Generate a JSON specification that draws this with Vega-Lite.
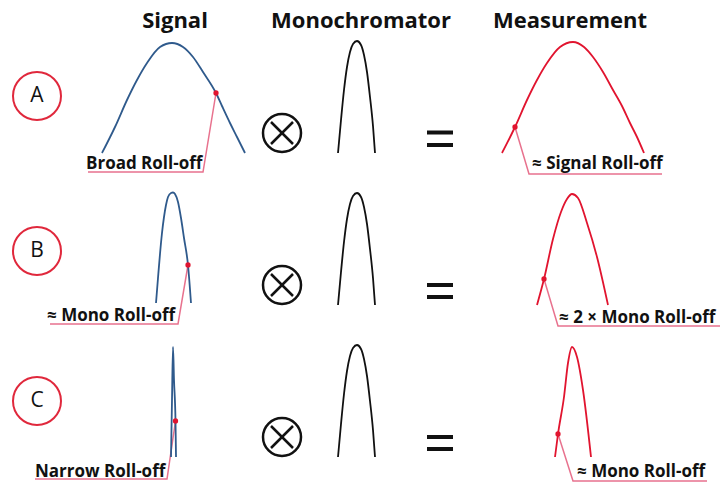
{
  "$schema": "https://vega.github.io/schema/vega-lite/v6.json",
  "width": 720,
  "height": 485,
  "padding": 0,
  "autosize": {"type": "none"},
  "background": "white",
  "config": {"view": {"stroke": null}, "axis": {"disable": true}},
  "datasets": {
    "curves": [
      {"id": "sigA", "kind": "signal", "o": 1, "x": 102, "y": 153},
      {"id": "sigA", "kind": "signal", "o": 2, "x": 115, "y": 127},
      {"id": "sigA", "kind": "signal", "o": 3, "x": 127, "y": 100},
      {"id": "sigA", "kind": "signal", "o": 4, "x": 137, "y": 80},
      {"id": "sigA", "kind": "signal", "o": 5, "x": 147, "y": 63},
      {"id": "sigA", "kind": "signal", "o": 6, "x": 160, "y": 47},
      {"id": "sigA", "kind": "signal", "o": 7, "x": 172, "y": 43},
      {"id": "sigA", "kind": "signal", "o": 8, "x": 183, "y": 47},
      {"id": "sigA", "kind": "signal", "o": 9, "x": 193, "y": 57},
      {"id": "sigA", "kind": "signal", "o": 10, "x": 203, "y": 72},
      {"id": "sigA", "kind": "signal", "o": 11, "x": 216, "y": 93},
      {"id": "sigA", "kind": "signal", "o": 12, "x": 222, "y": 106},
      {"id": "sigA", "kind": "signal", "o": 13, "x": 230, "y": 123},
      {"id": "sigA", "kind": "signal", "o": 14, "x": 237, "y": 137},
      {"id": "sigA", "kind": "signal", "o": 15, "x": 245, "y": 153},

      {"id": "monoA", "kind": "mono", "o": 1, "x": 338, "y": 153},
      {"id": "monoA", "kind": "mono", "o": 2, "x": 341, "y": 120},
      {"id": "monoA", "kind": "mono", "o": 3, "x": 344, "y": 90},
      {"id": "monoA", "kind": "mono", "o": 4, "x": 347, "y": 67},
      {"id": "monoA", "kind": "mono", "o": 5, "x": 350, "y": 52},
      {"id": "monoA", "kind": "mono", "o": 6, "x": 353, "y": 44},
      {"id": "monoA", "kind": "mono", "o": 7, "x": 357, "y": 41},
      {"id": "monoA", "kind": "mono", "o": 8, "x": 361, "y": 45},
      {"id": "monoA", "kind": "mono", "o": 9, "x": 364, "y": 55},
      {"id": "monoA", "kind": "mono", "o": 10, "x": 367, "y": 72},
      {"id": "monoA", "kind": "mono", "o": 11, "x": 370, "y": 97},
      {"id": "monoA", "kind": "mono", "o": 12, "x": 373, "y": 126},
      {"id": "monoA", "kind": "mono", "o": 13, "x": 375, "y": 153},

      {"id": "measA", "kind": "meas", "o": 1, "x": 502, "y": 153},
      {"id": "measA", "kind": "meas", "o": 2, "x": 515, "y": 127},
      {"id": "measA", "kind": "meas", "o": 3, "x": 527, "y": 100},
      {"id": "measA", "kind": "meas", "o": 4, "x": 537, "y": 80},
      {"id": "measA", "kind": "meas", "o": 5, "x": 547, "y": 63},
      {"id": "measA", "kind": "meas", "o": 6, "x": 560, "y": 47},
      {"id": "measA", "kind": "meas", "o": 7, "x": 573, "y": 42},
      {"id": "measA", "kind": "meas", "o": 8, "x": 584, "y": 47},
      {"id": "measA", "kind": "meas", "o": 9, "x": 593, "y": 57},
      {"id": "measA", "kind": "meas", "o": 10, "x": 603, "y": 72},
      {"id": "measA", "kind": "meas", "o": 11, "x": 613, "y": 90},
      {"id": "measA", "kind": "meas", "o": 12, "x": 622, "y": 106},
      {"id": "measA", "kind": "meas", "o": 13, "x": 630, "y": 123},
      {"id": "measA", "kind": "meas", "o": 14, "x": 637, "y": 137},
      {"id": "measA", "kind": "meas", "o": 15, "x": 644, "y": 153},

      {"id": "sigB", "kind": "signal", "o": 1, "x": 156, "y": 303},
      {"id": "sigB", "kind": "signal", "o": 2, "x": 158, "y": 278},
      {"id": "sigB", "kind": "signal", "o": 3, "x": 160, "y": 254},
      {"id": "sigB", "kind": "signal", "o": 4, "x": 162, "y": 233},
      {"id": "sigB", "kind": "signal", "o": 5, "x": 164, "y": 217},
      {"id": "sigB", "kind": "signal", "o": 6, "x": 166, "y": 205},
      {"id": "sigB", "kind": "signal", "o": 7, "x": 168, "y": 197},
      {"id": "sigB", "kind": "signal", "o": 8, "x": 171, "y": 193},
      {"id": "sigB", "kind": "signal", "o": 9, "x": 173, "y": 192.5},
      {"id": "sigB", "kind": "signal", "o": 10, "x": 175, "y": 194},
      {"id": "sigB", "kind": "signal", "o": 11, "x": 178, "y": 202},
      {"id": "sigB", "kind": "signal", "o": 12, "x": 181, "y": 218},
      {"id": "sigB", "kind": "signal", "o": 13, "x": 184, "y": 238},
      {"id": "sigB", "kind": "signal", "o": 14, "x": 188, "y": 265},
      {"id": "sigB", "kind": "signal", "o": 15, "x": 191, "y": 303},

      {"id": "monoB", "kind": "mono", "o": 1, "x": 338, "y": 305},
      {"id": "monoB", "kind": "mono", "o": 2, "x": 341, "y": 272},
      {"id": "monoB", "kind": "mono", "o": 3, "x": 344, "y": 242},
      {"id": "monoB", "kind": "mono", "o": 4, "x": 347, "y": 219},
      {"id": "monoB", "kind": "mono", "o": 5, "x": 350, "y": 204},
      {"id": "monoB", "kind": "mono", "o": 6, "x": 353, "y": 196},
      {"id": "monoB", "kind": "mono", "o": 7, "x": 357, "y": 193},
      {"id": "monoB", "kind": "mono", "o": 8, "x": 361, "y": 197},
      {"id": "monoB", "kind": "mono", "o": 9, "x": 364, "y": 207},
      {"id": "monoB", "kind": "mono", "o": 10, "x": 367, "y": 224},
      {"id": "monoB", "kind": "mono", "o": 11, "x": 370, "y": 249},
      {"id": "monoB", "kind": "mono", "o": 12, "x": 373, "y": 278},
      {"id": "monoB", "kind": "mono", "o": 13, "x": 375, "y": 305},

      {"id": "measB", "kind": "meas", "o": 1, "x": 537, "y": 305},
      {"id": "measB", "kind": "meas", "o": 2, "x": 544, "y": 279},
      {"id": "measB", "kind": "meas", "o": 3, "x": 553, "y": 239},
      {"id": "measB", "kind": "meas", "o": 4, "x": 561, "y": 212},
      {"id": "measB", "kind": "meas", "o": 5, "x": 567, "y": 199},
      {"id": "measB", "kind": "meas", "o": 6, "x": 572, "y": 194},
      {"id": "measB", "kind": "meas", "o": 7, "x": 578, "y": 198},
      {"id": "measB", "kind": "meas", "o": 8, "x": 587, "y": 223},
      {"id": "measB", "kind": "meas", "o": 9, "x": 597, "y": 257},
      {"id": "measB", "kind": "meas", "o": 10, "x": 608, "y": 305},

      {"id": "sigC", "kind": "signal", "o": 1, "x": 171, "y": 457},
      {"id": "sigC", "kind": "signal", "o": 2, "x": 172, "y": 400},
      {"id": "sigC", "kind": "signal", "o": 3, "x": 173, "y": 347},
      {"id": "sigC", "kind": "signal", "o": 4, "x": 174, "y": 380},
      {"id": "sigC", "kind": "signal", "o": 5, "x": 175.5, "y": 421},
      {"id": "sigC", "kind": "signal", "o": 6, "x": 176, "y": 457},

      {"id": "monoC", "kind": "mono", "o": 1, "x": 338, "y": 457},
      {"id": "monoC", "kind": "mono", "o": 2, "x": 341, "y": 424},
      {"id": "monoC", "kind": "mono", "o": 3, "x": 344, "y": 394},
      {"id": "monoC", "kind": "mono", "o": 4, "x": 347, "y": 371},
      {"id": "monoC", "kind": "mono", "o": 5, "x": 350, "y": 356},
      {"id": "monoC", "kind": "mono", "o": 6, "x": 353, "y": 348},
      {"id": "monoC", "kind": "mono", "o": 7, "x": 357, "y": 345},
      {"id": "monoC", "kind": "mono", "o": 8, "x": 361, "y": 349},
      {"id": "monoC", "kind": "mono", "o": 9, "x": 364, "y": 359},
      {"id": "monoC", "kind": "mono", "o": 10, "x": 367, "y": 376},
      {"id": "monoC", "kind": "mono", "o": 11, "x": 370, "y": 401},
      {"id": "monoC", "kind": "mono", "o": 12, "x": 373, "y": 430},
      {"id": "monoC", "kind": "mono", "o": 13, "x": 375, "y": 457},

      {"id": "measC", "kind": "meas", "o": 1, "x": 555, "y": 457},
      {"id": "measC", "kind": "meas", "o": 2, "x": 558, "y": 434},
      {"id": "measC", "kind": "meas", "o": 3, "x": 564, "y": 397},
      {"id": "measC", "kind": "meas", "o": 4, "x": 568, "y": 363},
      {"id": "measC", "kind": "meas", "o": 5, "x": 572, "y": 347},
      {"id": "measC", "kind": "meas", "o": 6, "x": 577, "y": 357},
      {"id": "measC", "kind": "meas", "o": 7, "x": 583, "y": 390},
      {"id": "measC", "kind": "meas", "o": 8, "x": 591, "y": 457}
    ],
    "links": [
      {"id": "lA1", "o": 1, "x": 216, "y": 93},
      {"id": "lA1", "o": 2, "x": 203, "y": 172},
      {"id": "lA1", "o": 3, "x": 88, "y": 172},
      {"id": "lA2", "o": 1, "x": 515, "y": 127},
      {"id": "lA2", "o": 2, "x": 529, "y": 174},
      {"id": "lA2", "o": 3, "x": 662, "y": 174},
      {"id": "lB1", "o": 1, "x": 188, "y": 265},
      {"id": "lB1", "o": 2, "x": 178, "y": 324},
      {"id": "lB1", "o": 3, "x": 50, "y": 324},
      {"id": "lB2", "o": 1, "x": 544, "y": 279},
      {"id": "lB2", "o": 2, "x": 558, "y": 326},
      {"id": "lB2", "o": 3, "x": 720, "y": 326},
      {"id": "lC1", "o": 1, "x": 175.5, "y": 421},
      {"id": "lC1", "o": 2, "x": 167, "y": 479},
      {"id": "lC1", "o": 3, "x": 35, "y": 479},
      {"id": "lC2", "o": 1, "x": 558, "y": 434},
      {"id": "lC2", "o": 2, "x": 573, "y": 481},
      {"id": "lC2", "o": 3, "x": 707, "y": 481}
    ],
    "dots": [
      {"x": 216, "y": 93}, {"x": 515, "y": 127},
      {"x": 188, "y": 265}, {"x": 544, "y": 279},
      {"x": 175.5, "y": 421}, {"x": 558, "y": 434}
    ],
    "rows": [
      {"letter": "A", "x": 37, "y": 96, "ox": 282, "oy": 133},
      {"letter": "B", "x": 37, "y": 251, "ox": 282, "oy": 285},
      {"letter": "C", "x": 37, "y": 401, "ox": 282, "oy": 437}
    ],
    "crosses": [
      {"x": 271, "y": 122, "x2": 293, "y2": 144},
      {"x": 271, "y": 144, "x2": 293, "y2": 122},
      {"x": 271, "y": 274, "x2": 293, "y2": 296},
      {"x": 271, "y": 296, "x2": 293, "y2": 274},
      {"x": 271, "y": 426, "x2": 293, "y2": 448},
      {"x": 271, "y": 448, "x2": 293, "y2": 426}
    ],
    "equals": [
      {"x": 427, "x2": 453, "y": 132.5}, {"x": 427, "x2": 453, "y": 145},
      {"x": 427, "x2": 453, "y": 285}, {"x": 427, "x2": 453, "y": 297},
      {"x": 427, "x2": 453, "y": 437}, {"x": 427, "x2": 453, "y": 449}
    ],
    "headers": [
      {"t": "Signal", "x": 175, "y": 28},
      {"t": "Monochromator", "x": 361, "y": 28},
      {"t": "Measurement", "x": 570, "y": 28}
    ],
    "labels": [
      {"t": "Broad Roll-off", "x": 86, "y": 169},
      {"t": "≈ Signal Roll-off", "x": 532, "y": 169},
      {"t": "≈ Mono Roll-off", "x": 47, "y": 321},
      {"t": "≈ 2 × Mono Roll-off", "x": 559, "y": 323},
      {"t": "Narrow Roll-off", "x": 35, "y": 477},
      {"t": "≈ Mono Roll-off", "x": 577, "y": 477}
    ]
  },
  "layer": [
    {
      "data": {"name": "links"},
      "mark": {"type": "line", "stroke": "#e8728e", "strokeWidth": 1.5},
      "encoding": {
        "x": {"field": "x", "type": "quantitative", "scale": {"domain": [0, 720], "nice": false, "zero": false}},
        "y": {"field": "y", "type": "quantitative", "scale": {"domain": [0, 485], "nice": false, "zero": false, "reverse": true}},
        "detail": {"field": "id"},
        "order": {"field": "o", "type": "quantitative"}
      }
    },
    {
      "data": {"name": "curves"},
      "mark": {"type": "line", "strokeWidth": 1.8, "interpolate": "monotone"},
      "encoding": {
        "x": {"field": "x", "type": "quantitative"},
        "y": {"field": "y", "type": "quantitative"},
        "detail": {"field": "id"},
        "order": {"field": "o", "type": "quantitative"},
        "color": {"field": "kind", "type": "nominal", "legend": null,
          "scale": {"domain": ["signal", "mono", "meas"], "range": ["#2f5a8c", "#111111", "#e1142f"]}}
      }
    },
    {
      "data": {"name": "dots"},
      "mark": {"type": "point", "filled": true, "color": "#e1142f", "size": 28, "opacity": 1},
      "encoding": {
        "x": {"field": "x", "type": "quantitative"},
        "y": {"field": "y", "type": "quantitative"}
      }
    },
    {
      "data": {"name": "rows"},
      "mark": {"type": "point", "shape": "circle", "filled": false, "stroke": "#e0283c", "strokeWidth": 2, "size": 2304, "opacity": 1},
      "encoding": {
        "x": {"field": "x", "type": "quantitative"},
        "y": {"field": "y", "type": "quantitative"}
      }
    },
    {
      "data": {"name": "rows"},
      "mark": {"type": "text", "font": "Open Sans", "fontSize": 21, "fontWeight": "normal", "color": "#111111", "baseline": "middle", "align": "center"},
      "encoding": {
        "x": {"field": "x", "type": "quantitative"},
        "y": {"field": "y", "type": "quantitative"},
        "text": {"field": "letter"}
      }
    },
    {
      "data": {"name": "rows"},
      "mark": {"type": "point", "shape": "circle", "filled": false, "stroke": "#111111", "strokeWidth": 2.5, "size": 1444, "opacity": 1},
      "encoding": {
        "x": {"field": "ox", "type": "quantitative"},
        "y": {"field": "oy", "type": "quantitative"}
      }
    },
    {
      "data": {"name": "crosses"},
      "mark": {"type": "rule", "stroke": "#111111", "strokeWidth": 2.5},
      "encoding": {
        "x": {"field": "x", "type": "quantitative"},
        "y": {"field": "y", "type": "quantitative"},
        "x2": {"field": "x2"},
        "y2": {"field": "y2"}
      }
    },
    {
      "data": {"name": "equals"},
      "mark": {"type": "rule", "stroke": "#111111", "strokeWidth": 4},
      "encoding": {
        "x": {"field": "x", "type": "quantitative"},
        "x2": {"field": "x2"},
        "y": {"field": "y", "type": "quantitative"}
      }
    },
    {
      "data": {"name": "headers"},
      "mark": {"type": "text", "font": "Open Sans", "fontSize": 22, "fontWeight": "bold", "color": "#111111", "baseline": "alphabetic", "align": "center"},
      "encoding": {
        "x": {"field": "x", "type": "quantitative"},
        "y": {"field": "y", "type": "quantitative"},
        "text": {"field": "t"}
      }
    },
    {
      "data": {"name": "labels"},
      "mark": {"type": "text", "font": "Open Sans", "fontSize": 17, "fontWeight": "bold", "color": "#111111", "baseline": "alphabetic", "align": "left"},
      "encoding": {
        "x": {"field": "x", "type": "quantitative"},
        "y": {"field": "y", "type": "quantitative"},
        "text": {"field": "t"}
      }
    }
  ]
}
